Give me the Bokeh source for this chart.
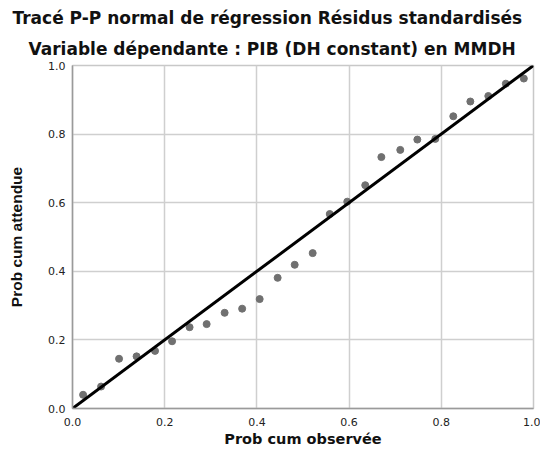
from bokeh.plotting import figure
from bokeh.models import Range1d, FixedTicker, Title, NumeralTickFormatter, ColumnDataSource
from bokeh.embed import file_html
from bokeh.resources import INLINE

title_line1 = "Tracé P-P normal de régression Résidus standardisés"
title_line2 = "Variable dépendante : PIB (DH constant) en MMDH"
x_label = "Prob cum observée"
y_label = "Prob cum attendue"

observed = [0.023, 0.062, 0.101, 0.139, 0.179, 0.216, 0.254, 0.291, 0.330, 0.368,
            0.406, 0.445, 0.482, 0.521, 0.558, 0.596, 0.635, 0.670, 0.711, 0.748,
            0.787, 0.826, 0.863, 0.902, 0.940, 0.979]
expected = [0.040, 0.064, 0.145, 0.152, 0.168, 0.196, 0.237, 0.246, 0.279, 0.291,
            0.319, 0.381, 0.419, 0.453, 0.567, 0.603, 0.651, 0.733, 0.754, 0.784,
            0.786, 0.852, 0.895, 0.911, 0.947, 0.962]
ref_line_x = [0.0, 1.0]
ref_line_y = [0.0, 1.0]
ticks = [0.0, 0.2, 0.4, 0.6, 0.8, 1.0]

FONT = "DejaVu Sans"
FONT_V = "Liberation Sans"

p = figure(width=540, height=451, output_backend="svg", toolbar_location=None,
           x_range=Range1d(0, 1), y_range=Range1d(0, 1),
           min_border_left=72, min_border_right=7, min_border_top=65, min_border_bottom=43)

p.add_layout(Title(text=title_line2, align="left", offset=-44, text_font=FONT,
                   text_font_size="17px", text_font_style="bold", text_color="#111111",
                   standoff=14), "above")
p.add_layout(Title(text=title_line1, align="left", offset=-60, text_font=FONT,
                   text_font_size="17px", text_font_style="bold", text_color="#111111",
                   standoff=3), "above")

p.background_fill_color = "white"
p.border_fill_color = "white"
p.outline_line_color = "#c8c8c8"
p.outline_line_width = 1.5

for ax in (p.xaxis, p.yaxis):
    ax.ticker = FixedTicker(ticks=ticks)
    ax.formatter = NumeralTickFormatter(format="0.0")
    ax.major_tick_line_color = None
    ax.minor_tick_line_color = None
    ax.axis_line_color = "#9a9a9a"
    ax.axis_line_width = 1.5
    ax.major_label_text_font = FONT
    ax.major_label_text_font_size = "11px"
    ax.major_label_text_color = "#222222"
    ax.axis_label_text_font_style = "bold"
    ax.axis_label_text_color = "#111111"

p.xaxis.axis_label = x_label
p.yaxis.axis_label = y_label
p.xaxis.axis_label_text_font = FONT
p.yaxis.axis_label_text_font = FONT_V
p.xaxis.axis_label_text_font_size = "14.5px"
p.yaxis.axis_label_text_font_size = "15.5px"
p.xaxis.major_label_standoff = 3
p.yaxis.major_label_standoff = 1
p.xaxis.axis_label_standoff = 2
p.yaxis.axis_label_standoff = 20

p.grid.grid_line_color = "#cfcfcf"
p.grid.grid_line_width = 1.5
p.xgrid.ticker = FixedTicker(ticks=ticks)
p.ygrid.ticker = FixedTicker(ticks=ticks)

src = ColumnDataSource(dict(x=observed, y=expected))
p.scatter("x", "y", source=src, size=7, color="#707070", line_color="#707070")
p.line(ref_line_x, ref_line_y, line_color="black", line_width=3)

open("out.html", "w").write(file_html(p, INLINE))
